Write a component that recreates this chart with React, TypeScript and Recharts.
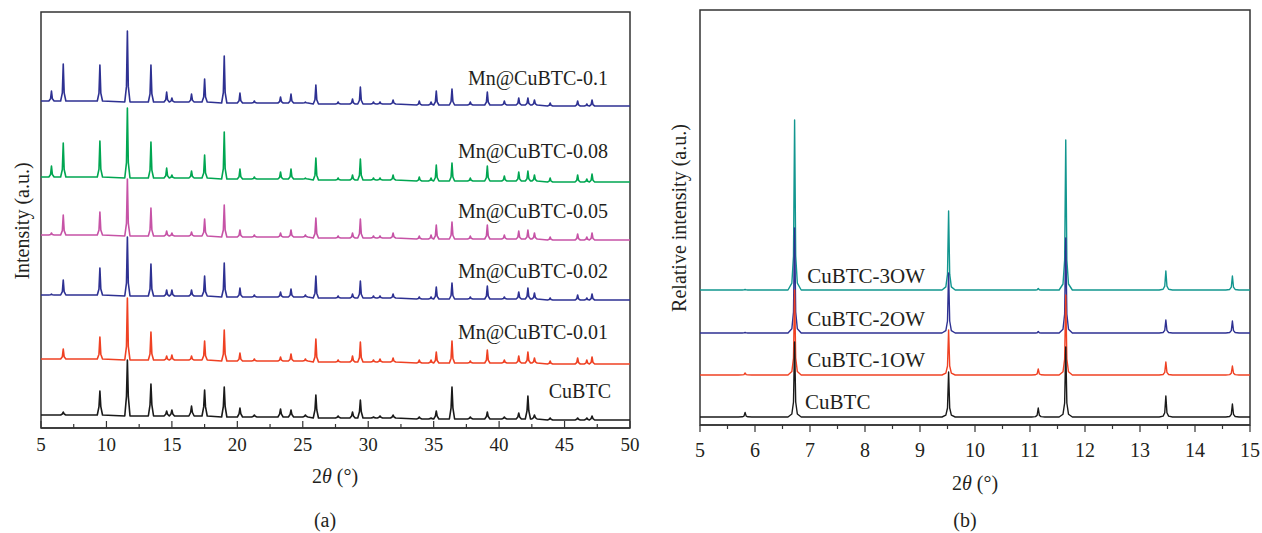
import React from 'react';
import { LineChart, Line, XAxis, YAxis, ReferenceArea, ReferenceDot } from 'recharts';

// ---------- panel (a): Mn@CuBTC samples, 2θ 5–50° ----------
const peaksA = [5.8, 6.7, 9.5, 11.6, 13.4, 14.6, 15.0, 16.5, 17.5, 19.0, 20.2, 21.3, 23.3, 24.1, 25.2, 26.0, 27.7, 28.8,
  29.4, 30.4, 30.9, 31.9, 33.9, 34.8, 35.2, 36.4, 37.8, 39.1, 40.4, 41.5, 42.2, 42.7, 43.9, 46.0, 46.7, 47.1];
// slow background drift under every pattern (higher on the left)
const driftA = [5, 5, 5, 4, 4, 4, 4, 4, 4, 3, 3, 3, 3, 3, 3, 2, 2, 2, 2, 2, 2, 2, 1, 1, 1, 1, 1, 1, 1, 1, 1, 1, 0, 0, 0, 0];
const driftStartA = 5;
const driftEndA = 0;

const mn01 = [10, 37, 36, 71, 37, 10, 4, 8, 23, 47, 10, 2, 6, 9, 1, 19, 2, 5, 17, 2, 2, 4, 4, 3, 14, 16, 3, 13, 4, 7, 7, 5, 3, 5, 2, 6];
const mn008 = [11, 34, 36, 70, 36, 10, 3, 7, 23, 47, 10, 2, 7, 10, 1, 22, 2, 5, 21, 2, 2, 5, 4, 3, 16, 18, 3, 15, 5, 9, 10, 6, 4, 7, 3, 8];
const mn005 = [2, 20, 23, 57, 28, 5, 3, 4, 17, 32, 7, 2, 4, 7, 2, 20, 2, 5, 19, 2, 2, 5, 3, 4, 14, 17, 3, 14, 4, 8, 9, 6, 3, 6, 3, 7];
const mn002 = [1, 15, 27, 59, 32, 6, 6, 6, 20, 34, 9, 2, 5, 8, 2, 22, 2, 4, 17, 2, 2, 4, 2, 2, 12, 16, 2, 13, 2, 7, 11, 6, 2, 5, 2, 6];
const mn001 = [0, 10, 22, 62, 28, 4, 5, 4, 19, 31, 8, 2, 4, 7, 2, 23, 2, 6, 20, 2, 3, 4, 3, 3, 11, 22, 2, 13, 3, 7, 11, 5, 3, 6, 4, 7];
const cubtcA = [0, 3, 24, 56, 32, 5, 6, 10, 26, 30, 9, 2, 8, 7, 2, 23, 2, 6, 18, 1, 2, 3, 2, 1, 8, 32, 2, 7, 2, 6, 23, 4, 2, 2, 2, 4];

const namesA = ['Mn@CuBTC-0.1', 'Mn@CuBTC-0.08', 'Mn@CuBTC-0.05', 'Mn@CuBTC-0.02', 'Mn@CuBTC-0.01', 'CuBTC'];
const heightsA = [mn01, mn008, mn005, mn002, mn001, cubtcA];
const stackA = [322, 246, 188, 128, 64, 8];
const ticksA = [5, 7.5, 10, 12.5, 15, 17.5, 20, 22.5, 25, 27.5, 30, 32.5, 35, 37.5, 40, 42.5, 45, 47.5, 50];

// ---------- panel (b): CuBTC with water layers, 2θ 5–15° ----------
const peaksB = [5.82, 6.72, 9.52, 11.15, 11.65, 13.47, 14.68];
const ow3 = [0.5, 170, 79, 1.5, 150, 19, 14];
const ow2 = [0.5, 105, 60, 1.5, 95, 13, 12];
const ow1 = [2, 85, 45, 6, 80, 13, 9];
const cubtcB = [4.5, 75, 45, 9, 70, 21, 13];

const namesB = ['CuBTC-3OW', 'CuBTC-2OW', 'CuBTC-1OW', 'CuBTC'];
const heightsB = [ow3, ow2, ow1, cubtcB];
const stackB = [135, 92, 50, 8];
const ticksB = [5, 5.5, 6, 6.5, 7, 7.5, 8, 8.5, 9, 9.5, 10, 10.5, 11, 11.5, 12, 12.5, 13, 13.5, 14, 14.5, 15];

// peak shapes (style)
const shapeDxA = [-0.2, -0.07, 0, 0.07, 0.2];
const sharpA = [0, 0.22, 1, 0.22, 0];
const broadA = [0, 0.35, 1, 0.35, 0];
const shapeDxB = [-0.12, -0.05, -0.02, 0, 0.02, 0.05, 0.12];
const shapeB = [0, 0.04, 0.2, 1, 0.2, 0.04, 0];

const FONT = '"Liberation Serif", "DejaVu Serif", serif';
const TEXT = '#231f20';
const AXIS = '#333';
const colorsA = ['#2e3192', '#00a651', '#c653a6', '#2e3192', '#ef4123', '#1a1a1a'];
const colorsB = ['#12968f', '#2e3192', '#ef4123', '#1a1a1a'];

type Row = { [k: string]: number };

const buildRows = (
  peaks: number[], heights: number[][], stack: number[], drift: number[],
  start: [number, number], end: [number, number], dxs: number[], shapes: number[][],
): Row[] => {
  const mk = (x: number, f: (s: number) => number) => {
    const r: Row = { x };
    heights.forEach((_, s) => { r['s' + s] = f(s); });
    return r;
  };
  const rows: Row[] = [mk(start[0], (s) => stack[s] + start[1])];
  peaks.forEach((p, j) => {
    dxs.forEach((dx, k) => {
      rows.push(mk(+(p + dx).toFixed(3), (s) => stack[s] + drift[j] + heights[s][j] * shapes[s][k]));
    });
  });
  rows.push(mk(end[0], (s) => stack[s] + end[1]));
  return rows;
};

const rowsA = buildRows(peaksA, heightsA, stackA, driftA, [5, driftStartA], [50, driftEndA], shapeDxA,
  [sharpA, sharpA, sharpA, sharpA, sharpA, broadA]);
const rowsB = buildRows(peaksB, heightsB, stackB, peaksB.map(() => 0), [5, 0], [15, 0], shapeDxB,
  [shapeB, shapeB, shapeB, shapeB]);

const TickA = (props: any) => {
  const { x, y, payload } = props;
  const v = payload.value;
  const major = v % 5 === 0;
  return (
    <g>
      <line x1={x} x2={x} y1={y} y2={y - (major ? 7 : 4)} stroke={AXIS} strokeWidth={1.2} />
      {major && (
        <text x={x} y={y + 23} textAnchor="middle" fontSize={19} fontFamily={FONT} fill={TEXT}>{v}</text>
      )}
    </g>
  );
};

const TickB = (props: any) => {
  const { x, y, payload } = props;
  const v = payload.value;
  const major = Number.isInteger(v);
  return (
    <g>
      <line x1={x} x2={x} y1={y} y2={y + (major ? 7 : 4)} stroke={AXIS} strokeWidth={1.2} />
      {major && (
        <text x={x} y={y + 32} textAnchor="middle" fontSize={20} fontFamily={FONT} fill={TEXT}>{v}</text>
      )}
    </g>
  );
};

const labelPosA: [number, number][] = [[48.32, 350], [48.32, 277], [48.32, 217], [48.32, 157], [48.32, 96], [48.55, 37]];
const labelPosB: [number, number][] = [[6.95, 149.5], [6.95, 106], [6.95, 65], [6.91, 23]];

const App = () => {
  return (
    <div style={{ position: 'absolute', left: 0, top: 0, width: 1262, height: 533, background: '#fff', fontFamily: FONT }}>
      <div style={{ position: 'absolute', left: 0, top: 0 }}>
        <LineChart width={640} height={533} data={rowsA} margin={{ top: 12, right: 10, bottom: 0, left: 41 }}
          style={{ fontFamily: FONT }}>
          <XAxis dataKey="x" type="number" domain={[5, 50]} ticks={ticksA} interval={0} allowDataOverflow
            tickLine={false} tickSize={0} tickMargin={0} tick={TickA} height={105}
            axisLine={{ stroke: AXIS, strokeWidth: 1.5 }} />
          <YAxis hide domain={[0, 416]} allowDataOverflow />
          <ReferenceArea x1={5} x2={50} y1={0} y2={416} fill="none" stroke={AXIS} strokeWidth={1.5} />
          {namesA.map((n, i) => (
            <Line key={n} dataKey={'s' + i} name={n} type="linear" stroke={colorsA[i]} strokeWidth={1.6}
              strokeLinejoin="round" dot={false} activeDot={false} isAnimationActive={false} />
          ))}
          {namesA.map((n, i) => (
            <ReferenceDot key={'l' + n} x={labelPosA[i][0]} y={labelPosA[i][1]} r={0} stroke="none" fill="none"
              label={{ value: n, position: 'left', offset: 0, fontSize: 20, fontFamily: FONT, fill: TEXT, style: { fontFamily: FONT } }} />
          ))}
        </LineChart>
      </div>
      <div style={{ position: 'absolute', left: 640, top: 0 }}>
        <LineChart width={622} height={533} data={rowsB} margin={{ top: 10, right: 12, bottom: 0, left: 60 }}
          style={{ fontFamily: FONT }}>
          <XAxis dataKey="x" type="number" domain={[5, 15]} ticks={ticksB} interval={0} allowDataOverflow
            tickLine={false} tickSize={0} tickMargin={0} tick={TickB} height={108}
            axisLine={{ stroke: AXIS, strokeWidth: 1.5 }} />
          <YAxis hide domain={[0, 415]} allowDataOverflow />
          <ReferenceArea x1={5} x2={15} y1={0} y2={415} fill="none" stroke={AXIS} strokeWidth={1.5} />
          {namesB.map((n, i) => (
            <Line key={n} dataKey={'s' + i} name={n} type="linear" stroke={colorsB[i]} strokeWidth={1.4}
              strokeLinejoin="round" dot={false} activeDot={false} isAnimationActive={false} />
          ))}
          {namesB.map((n, i) => (
            <ReferenceDot key={'l' + n} x={labelPosB[i][0]} y={labelPosB[i][1]} r={0} stroke="none" fill="none"
              label={{ value: n, position: 'right', offset: 0, fontSize: 21, fontFamily: FONT, fill: TEXT, style: { fontFamily: FONT } }} />
          ))}
        </LineChart>
      </div>
      <svg width={1262} height={533} style={{ position: 'absolute', left: 0, top: 0, pointerEvents: 'none' }}
        fontFamily={FONT} fill={TEXT}>
        <text x={22} y={221} dy="0.35em" fontSize={20} textAnchor="middle" transform="rotate(-90 22 221)">Intensity (a.u.)</text>
        <text x={335} y={476} dy="0.35em" fontSize={20} textAnchor="middle">2<tspan fontStyle="italic">θ</tspan> (°)</text>
        <text x={325} y={520} dy="0.35em" fontSize={20} textAnchor="middle">(a)</text>
        <text x={679} y={218} dy="0.35em" fontSize={20} textAnchor="middle" transform="rotate(-90 679 218)">Relative intensity (a.u.)</text>
        <text x={975} y={483} dy="0.35em" fontSize={20} textAnchor="middle">2<tspan fontStyle="italic">θ</tspan> (°)</text>
        <text x={965} y={520} dy="0.35em" fontSize={20} textAnchor="middle">(b)</text>
      </svg>
    </div>
  );
};

export default App;
